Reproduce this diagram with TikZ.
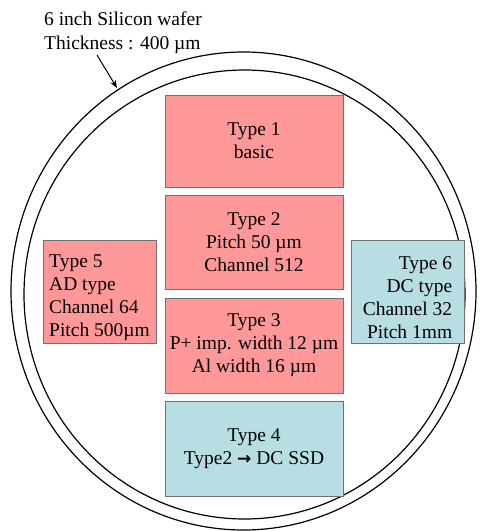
\documentclass[tikz,border=0pt]{standalone}
\usepackage{fontspec}
\setmainfont{Liberation Serif}
\newfontfamily\dvfont{DejaVu Sans}
\usetikzlibrary{arrows.meta}
\definecolor{pinkfill}{HTML}{FF9999}
\definecolor{cyanfill}{HTML}{B7DEE3}
\definecolor{boxline}{HTML}{707070}
\tikzset{
  wbox/.style={draw=boxline, line width=0.9pt, inner sep=0pt, font=\fontsize{19.5}{23}\selectfont},
  pinkbox/.style={wbox, fill=pinkfill},
  cyanbox/.style={wbox, fill=cyanfill},
  wafer/.style={draw=black, line width=1.2pt},
  lbl/.style={font=\fontsize{19.5}{24}\selectfont, inner sep=0pt, align=left}
}
\newcommand{\toppad}{\rule{0pt}{25pt}}
\begin{document}
\begin{tikzpicture}[x=1pt,y=-1pt]
\useasboundingbox (0,0) rectangle (490,531);
% wafer outline
\draw[wafer] (243.5,291) ellipse [x radius=232.5pt, y radius=239pt];
\draw[wafer] (244.5,294.5) ellipse [x radius=220.5pt, y radius=224.5pt];
% label
\node[lbl, anchor=north west] (wlabel) at (44,12) {6 inch Silicon wafer\\Thickness : 400 µm};
\coordinate (arrs) at (97,55);
\coordinate (arre) at (117,88);
\draw[line width=1pt, -{Stealth[length=8pt,width=6pt]}] (arrs) -- (arre);
% centre column
\node[pinkbox, minimum width=178pt, minimum height=92pt, align=center] (t1) at (254,141) {Type 1\\basic};
\node[pinkbox, minimum width=178pt, minimum height=94pt, align=center] (t2) at (254,242) {Type 2\\Pitch 50 µm\\Channel 512};
\node[pinkbox, minimum width=178pt, minimum height=95pt, align=center] (t3) at (254,345.5) {Type 3\\P+ imp. width 12 µm\\Al width 16 µm};
\node[cyanbox, minimum width=178pt, minimum height=95pt, align=center] (t4) at (254,448.5) {Type 4\\Type2 {\dvfont\bfseries\fontsize{17}{23}\selectfont →} DC SSD};
% side boxes
\node[pinkbox, minimum width=113pt, minimum height=103pt, align=left] (t5) at (99.5,292) {\toppad Type 5\\AD type\\Channel 64\\Pitch 500µm};
\node[cyanbox, minimum width=113pt, minimum height=103pt, align=right] (t6) at (407.5,291.5) {\toppad Type 6\\DC type\\Channel 32\\Pitch 1mm};
\end{tikzpicture}
\end{document}
